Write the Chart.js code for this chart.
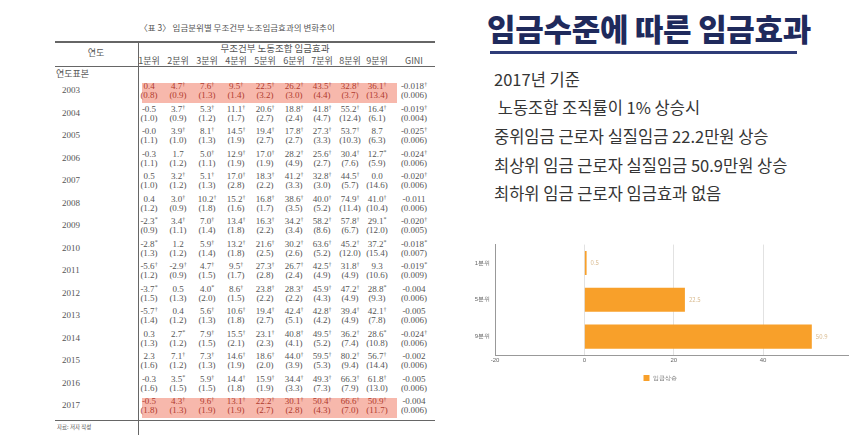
<!DOCTYPE html>
<html>
<head>
<meta charset="utf-8">
<script src="https://cdn.jsdelivr.net/npm/chart.js@4.4.0/dist/chart.umd.min.js"></script>
<style>
  html, body { margin: 0; padding: 0; }
  body { width: 850px; height: 435px; background: #fff; position: relative; overflow: hidden;
         font-family: "Noto Sans CJK KR", "Noto Sans", sans-serif; }
  .abs { position: absolute; white-space: nowrap; }
  .tbl { font-family: "Liberation Serif", "Noto Sans CJK KR", serif; color: #555; font-size: 9px; }
  .kr { font-family: "Noto Sans CJK KR", sans-serif; }
  .hl { position: absolute; background: #f7b8ac; }
  .red { color: #b03a2e; }
  sup { font-size: 6px; vertical-align: 3px; line-height: 0; }
  .line { position: absolute; background: #666; }
  #title { left: 487px; top: 5px; font-size: 31px; font-weight: 900; color: #1f2a5c; letter-spacing: -0.3px; }
  #uline { position: absolute; left: 490px; top: 51px; width: 307px; height: 3px; background: #2f3c78; }
  .bul { font-size: 16.5px; color: #353535; }
  #chartBox { position: absolute; left: 470px; top: 236px; width: 380px; height: 155px; }
</style>
</head>
<body>
<div id="tableArea"></div>

<div class="abs" id="title">임금수준에 따른 임금효과</div>
<div id="uline"></div>
<div id="bullets"></div>

<div id="chartBox"><canvas id="wageChart"></canvas></div>

<script>
// 표 3 데이터 (연도별 분위 추정치 / 표준오차)
const years = ['2003','2004','2005','2006','2007','2008','2009','2010','2011','2012','2013','2014','2015','2016','2017'];
const colHeads = ['1분위','2분위','3분위','4분위','5분위','6분위','7분위','8분위','9분위','GINI'];
const estimates = [
  ['0.4','4.7†','7.6†','9.5†','22.5†','26.2†','43.5†','32.8†','36.1†','-0.018†'],
  ['-0.5','3.7†','5.3†','11.1†','20.6†','18.8†','41.8†','55.2†','16.4†','-0.019†'],
  ['-0.0','3.9†','8.1†','14.5†','19.4†','17.8†','27.3†','53.7†','8.7','-0.025†'],
  ['-0.3','1.7','5.0†','12.9†','17.0†','28.2†','25.6†','30.4†','12.7*','-0.024†'],
  ['0.5','3.2†','5.1†','17.0†','18.3†','41.2†','32.8†','44.5†','0.0','-0.020†'],
  ['0.4','3.0†','10.2†','15.2†','16.8†','38.6†','40.0†','74.9†','41.0†','-0.011'],
  ['-2.3*','3.4†','7.0†','13.4†','16.3†','34.2†','58.2†','57.8†','29.1*','-0.020†'],
  ['-2.8*','1.2','5.9†','13.2†','21.6†','30.2†','63.6†','45.2†','37.2*','-0.018*'],
  ['-5.6†','-2.9†','4.7†','9.5†','27.3†','26.7†','42.5†','31.8†','9.3','-0.019*'],
  ['-3.7*','0.5','4.0*','8.6†','23.8†','28.3†','45.9†','47.2†','28.8*','-0.004'],
  ['-5.7†','0.4','5.6†','10.6†','19.4†','42.4†','42.8†','39.4†','42.1†','-0.005'],
  ['0.3','2.7*','7.9†','15.5†','23.1†','40.8†','49.5†','36.2†','28.6*','-0.024†'],
  ['2.3','7.1†','7.3†','14.6†','18.6†','44.0†','59.5†','80.2†','56.7†','-0.002'],
  ['-0.3','3.5*','5.9†','14.4†','15.9†','34.4†','49.3†','66.3†','61.8†','-0.005'],
  ['-0.5','4.3†','9.6†','13.1†','22.2†','30.1†','50.4†','66.6†','50.9†','-0.004']
];
const stdErrs = [
  ['0.8','0.9','1.3','1.4','3.2','3.0','4.4','3.7','13.4','0.006'],
  ['1.0','0.9','1.2','1.7','2.7','2.4','4.7','12.4','6.1','0.004'],
  ['1.1','1.0','1.3','1.9','2.7','2.7','3.3','10.3','6.3','0.006'],
  ['1.1','1.2','1.1','1.9','1.9','4.9','2.7','7.6','5.9','0.006'],
  ['1.0','1.2','1.3','2.8','2.2','3.3','3.0','5.7','14.6','0.006'],
  ['1.2','0.9','1.8','1.6','1.7','3.5','5.2','11.4','10.4','0.006'],
  ['0.9','1.1','1.4','1.8','2.2','3.4','8.6','6.7','12.0','0.005'],
  ['1.3','1.2','1.4','1.8','2.5','2.6','5.2','12.0','15.4','0.007'],
  ['1.2','0.9','1.5','1.7','2.8','2.4','4.9','4.9','10.6','0.009'],
  ['1.5','1.3','2.0','1.5','2.2','2.2','4.3','4.9','9.3','0.006'],
  ['1.4','1.2','1.3','1.8','2.7','5.1','4.2','4.9','7.8','0.006'],
  ['1.3','1.2','1.5','2.1','2.3','4.1','5.2','7.4','10.8','0.006'],
  ['1.6','1.2','1.3','1.9','2.0','3.9','5.3','9.4','14.4','0.006'],
  ['1.6','1.5','1.5','1.8','1.9','3.3','7.3','7.9','13.0','0.006'],
  ['1.8','1.3','1.9','1.9','2.7','2.8','4.3','7.0','11.7','0.006']
];
const highlightYears = ['2003', '2017'];

const bulletLines = [
  '2017년 기준',
  ' 노동조합 조직률이 1% 상승시',
  '중위임금 근로자 실질임금 22.2만원 상승',
  '최상위 임금 근로자 실질임금 50.9만원 상승',
  '최하위 임금 근로자 임금효과 없음'
];

// 차트 데이터
const barLabels = ['1분위', '5분위', '9분위'];
const wageRise = [0.5, 22.5, 50.9];
const seriesName = '임금상승';

// ---- 표 그리기 ----
const area = document.getElementById('tableArea');
function put(html, x, y, cls, align) {
  const d = document.createElement('div');
  d.className = 'abs ' + (cls || '');
  d.innerHTML = html;
  d.style.top = y + 'px';
  if (align === 'center') { d.style.left = (x - 40) + 'px'; d.style.width = '80px'; d.style.textAlign = 'center'; }
  else d.style.left = x + 'px';
  area.appendChild(d);
  return d;
}
function line(x, y, w, h) {
  const d = document.createElement('div');
  d.className = 'line';
  d.style.cssText = `left:${x}px;top:${y}px;width:${w}px;height:${h}px`;
  area.appendChild(d);
}
function fmt(s) {
  const m = s.match(/^(.*?)([†*])$/);
  return m ? m[1] + '<sup>' + m[2] + '</sup>' : s;
}

const colX = [149, 178, 207, 236, 265, 294, 322, 350, 377, 414];
const rowY0 = 92, rowStep = 22.5;

put('〈표 3〉 임금분위별 무조건부 노조임금효과의 변화추이', 237, 21, 'tbl kr', 'center').style.cssText += ';width:300px;left:87px;font-size:8.5px';
line(55, 41, 380, 1.5);
line(138, 41, 1, 394);
line(55, 66, 380, 1);
line(55, 420, 380, 1);
put('연도', 96, 46, 'tbl kr', 'center');
put('무조건부 노동조합 임금효과', 275, 41, 'tbl kr', 'center').style.cssText += ';width:160px;left:195px;font-size:9.5px';
colHeads.forEach((h, j) => put(h, colX[j], 54, 'tbl kr', 'center'));
put('연도표본', 56, 67, 'tbl kr');
put('자료: 저자 작성', 57, 423, 'tbl kr').style.fontSize = '5.5px';

years.forEach((yr, i) => {
  const cy = rowY0 + i * rowStep;
  const hi = highlightYears.includes(yr);
  if (hi) {
    const r = document.createElement('div');
    r.className = 'hl';
    r.style.cssText = `left:142px;top:${cy - 9}px;width:255px;height:20px`;
    area.appendChild(r);
  }
  put(yr, 62, cy - 7, 'tbl');
  estimates[i].forEach((v, j) => {
    const c = (hi && j < 9) ? 'tbl red' : 'tbl';
    put(fmt(v), colX[j], cy - 11, c, 'center');
    put('(' + stdErrs[i][j] + ')', colX[j], cy - 2, c, 'center');
  });
});

// ---- 오른쪽 텍스트 ----
const bl = document.getElementById('bullets');
const bulletY = [67, 95, 124, 153, 181];
bulletLines.forEach((t, i) => {
  const d = document.createElement('div');
  d.className = 'abs bul';
  d.style.left = '494px';
  d.style.top = bulletY[i] + 'px';
  d.textContent = t;
  d.style.whiteSpace = 'pre';
  bl.appendChild(d);
});

// ---- 막대 차트 ----
const valueLabels = {
  id: 'valueLabels',
  afterDatasetsDraw(chart) {
    const ctx = chart.ctx;
    ctx.save();
    ctx.font = '6px "Noto Sans CJK KR", sans-serif';
    ctx.fillStyle = '#d9bb90';
    ctx.textBaseline = 'middle';
    chart.getDatasetMeta(0).data.forEach((el, i) => {
      ctx.fillText(String(chart.data.datasets[0].data[i]), el.x + 4, el.y);
    });
    ctx.restore();
  }
};

new Chart(document.getElementById('wageChart'), {
  type: 'bar',
  data: {
    labels: barLabels,
    datasets: [{
      label: seriesName,
      data: wageRise,
      backgroundColor: '#f8a02a',
      borderWidth: 0,
      barPercentage: 0.82,
      categoryPercentage: 0.8
    }]
  },
  options: {
    indexAxis: 'y',
    responsive: true,
    maintainAspectRatio: false,
    animation: false,
    layout: { padding: { top: 5, right: 0, left: 0, bottom: 0 } },
    plugins: {
      legend: {
        position: 'bottom',
        labels: { boxWidth: 6, boxHeight: 6, font: { size: 6 }, color: '#777', padding: 8 }
      },
      tooltip: { enabled: false }
    },
    scales: {
      x: {
        min: -20,
        max: 59,
        afterFit(scale) { scale.height = 12; },
        ticks: {
          stepSize: 20,
          font: { size: 6 },
          color: '#666',
          padding: 2,
          callback: v => (v % 20 === 0 ? v : '')
        },
        grid: {
          color: ctx => (ctx.tick && ctx.tick.value % 20 === 0 && ctx.tick.value > -20 ? '#e2e2e2' : 'rgba(0,0,0,0)'),
          drawTicks: false
        },
        border: { color: '#999' }
      },
      y: {
        afterFit(scale) { scale.width = 25; },
        ticks: { font: { size: 6 }, color: '#666', padding: 5 },
        grid: { display: false, drawTicks: false },
        border: { color: '#999' }
      }
    }
  },
  plugins: [valueLabels]
});
</script>
</body>
</html>
